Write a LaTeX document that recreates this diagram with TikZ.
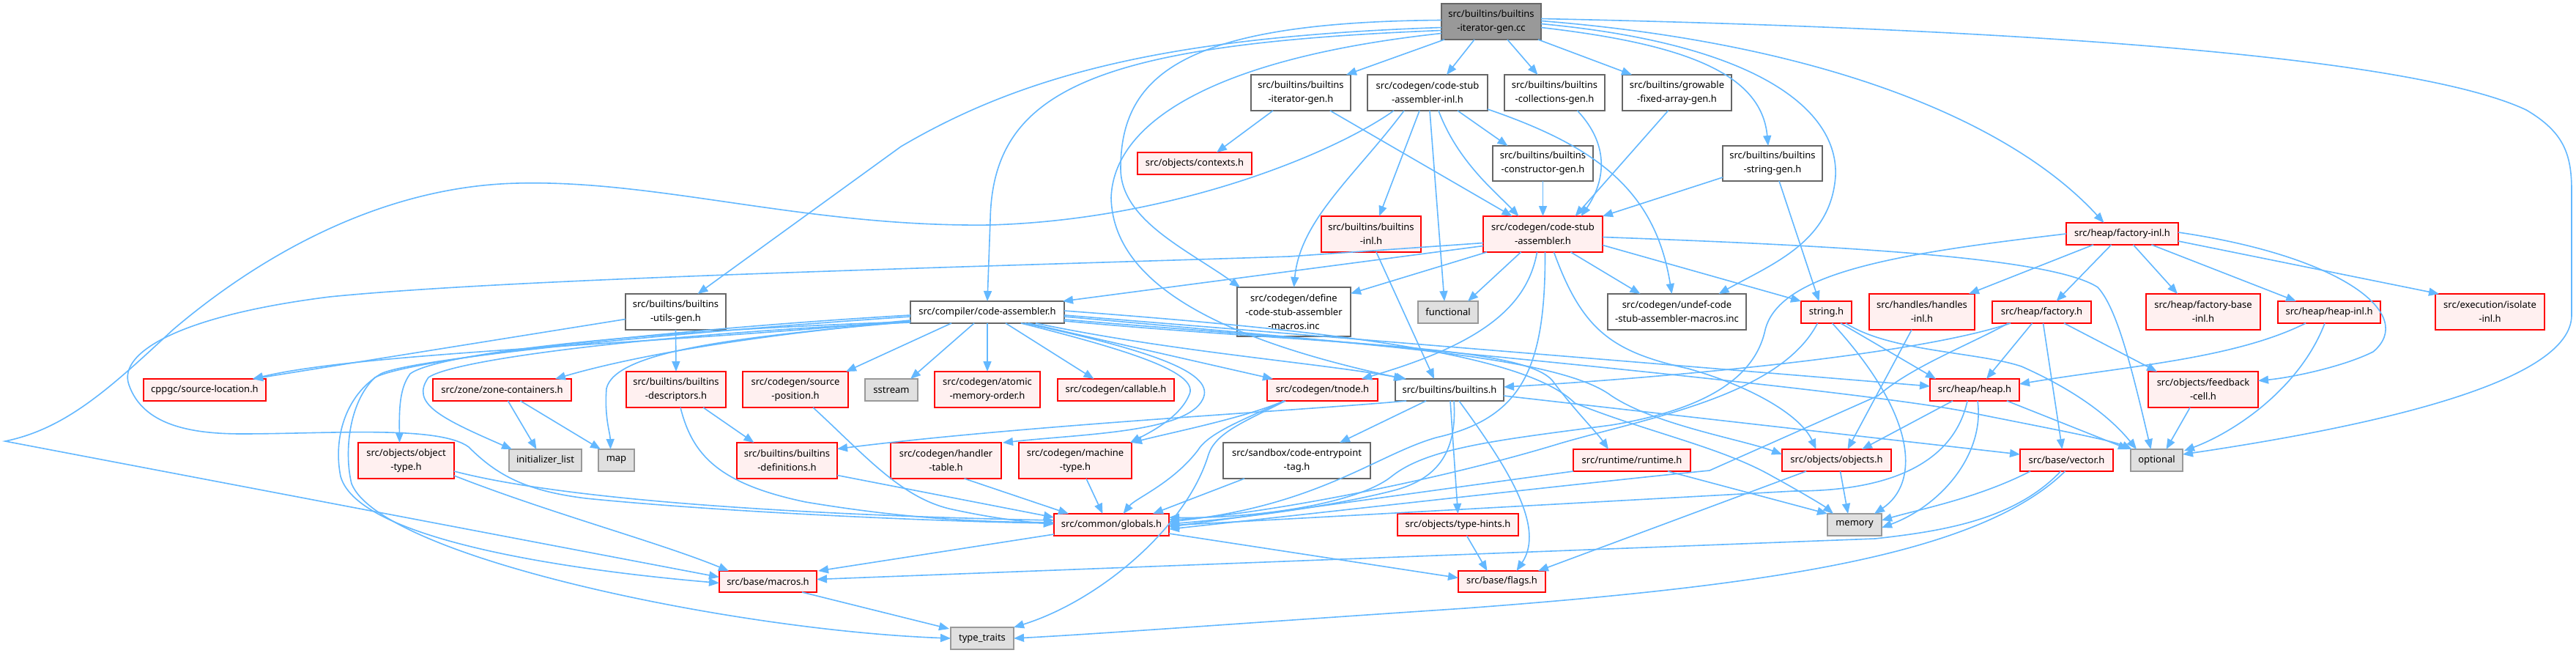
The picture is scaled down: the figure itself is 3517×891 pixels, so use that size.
\documentclass[tikz,border=0pt]{standalone}
\usepackage{fontspec}
\newfontfamily\dxfont{Noto Sans}
\usetikzlibrary{arrows.meta,calc}
\definecolor{edgec}{HTML}{63B8FF}
\definecolor{redfill}{HTML}{FFF0F0}
\definecolor{grayfill}{HTML}{E0E0E0}
\definecolor{grayline}{HTML}{999999}
\definecolor{darkline}{HTML}{666666}
\definecolor{rootfill}{HTML}{999999}
\tikzset{
  nb/.style={draw, line width=1.5pt, inner sep=0pt, outer sep=0pt, align=center,
    font={\dxfont\fontsize{13}{19}\selectfont}, text=black},
  rednode/.style={nb, draw=red, fill=redfill},
  graynode/.style={nb, draw=grayline, fill=grayfill},
  whitenode/.style={nb, draw=darkline, fill=white},
  rootnode/.style={nb, draw=darkline, fill=rootfill},
  conn/.style={draw=edgec, line width=1.6pt, -{Triangle[length=14pt,width=11pt]}},
}
\newcommand\mynode[7]{\node[#2, minimum width=#5pt, minimum height=#6pt] (#1) at (#3,#4) {#7};}
\begin{document}
\begin{tikzpicture}[x=1pt,y=-1pt]
\fill[white] (0,0) rectangle (3517,891);
\useasboundingbox (0,0) rectangle (3517,891);
% ---------------- nodes ----------------
\mynode{root}{rootnode}{2036}{29.5}{136}{49}{src/builtins/builtins\\-iterator-gen.cc}
\mynode{itergen}{whitenode}{1776}{126.5}{136}{49}{src/builtins/builtins\\-iterator-gen.h}
\mynode{csainl}{whitenode}{1949}{126.5}{164}{49}{src/codegen/code-stub\\-assembler-inl.h}
\mynode{collections}{whitenode}{2122.5}{126.5}{137}{49}{src/builtins/builtins\\-collections-gen.h}
\mynode{growable}{whitenode}{2289.5}{126.5}{149}{49}{src/builtins/growable\\-fixed-array-gen.h}
\mynode{contexts}{rednode}{1631}{223}{156}{30}{src/objects/contexts.h}
\mynode{constructorgen}{whitenode}{2106.5}{223}{137}{48}{src/builtins/builtins\\-constructor-gen.h}
\mynode{stringgen}{whitenode}{2420}{223}{136}{48}{src/builtins/builtins\\-string-gen.h}
\mynode{builtinsinl}{rednode}{1872}{319.5}{136}{49}{src/builtins/builtins\\-inl.h}
\mynode{csa}{rednode}{2106.5}{319.5}{163}{49}{src/codegen/code-stub\\-assembler.h}
\mynode{factoryinl}{rednode}{2897.5}{319}{153}{30}{src/heap/factory-inl.h}
\mynode{utilsgen}{whitenode}{922.5}{425.5}{137}{49}{src/builtins/builtins\\-utils-gen.h}
\mynode{codeasm}{whitenode}{1348}{426}{210}{30}{src/compiler/code-assembler.h}
\mynode{definemacros}{whitenode}{1766.5}{425.5}{155}{67}{src/codegen/define\\-code-stub-assembler\\-macros.inc}
\mynode{functional}{graynode}{1977}{426}{82}{30}{functional}
\mynode{undef}{whitenode}{2289.5}{425.5}{189}{49}{src/codegen/undef-code\\-stub-assembler-macros.inc}
\mynode{stringh}{rednode}{2493.5}{426}{69}{30}{string.h}
\mynode{handlesinl}{rednode}{2624}{425.5}{144}{49}{src/handles/handles\\-inl.h}
\mynode{factoryh}{rednode}{2787.5}{426}{135}{30}{src/heap/factory.h}
\mynode{factorybase}{rednode}{3008}{425.5}{156}{49}{src/heap/factory-base\\-inl.h}
\mynode{heapinl}{rednode}{3180}{426}{140}{30}{src/heap/heap-inl.h}
\mynode{isolateinl}{rednode}{3399.5}{425.5}{149}{49}{src/execution/isolate\\-inl.h}
\mynode{sourceloc}{rednode}{279.5}{532}{167}{30}{cppgc/source-location.h}
\mynode{zonecont}{rednode}{685.5}{532}{189}{30}{src/zone/zone-containers.h}
\mynode{descriptors}{rednode}{923}{531.5}{136}{49}{src/builtins/builtins\\-descriptors.h}
\mynode{sourcepos}{rednode}{1086}{531.5}{144}{49}{src/codegen/source\\-position.h}
\mynode{sstream}{graynode}{1217}{532}{72}{30}{sstream}
\mynode{atomic}{rednode}{1348}{531.5}{144}{49}{src/codegen/atomic\\-memory-order.h}
\mynode{callable}{rednode}{1523.5}{532}{159}{30}{src/codegen/callable.h}
\mynode{tnode}{rednode}{1805.5}{532}{151}{30}{src/codegen/tnode.h}
\mynode{builtinsh}{whitenode}{1979}{532}{148}{30}{src/builtins/builtins.h}
\mynode{heaph}{rednode}{2696}{532}{122}{30}{src/heap/heap.h}
\mynode{feedback}{rednode}{3008}{531.5}{150}{49}{src/objects/feedback\\-cell.h}
\mynode{objecttype}{rednode}{554.5}{628.5}{131}{49}{src/objects/object\\-type.h}
\mynode{initlist}{graynode}{744.5}{628}{99}{30}{initializer\_list}
\mynode{map}{graynode}{841.5}{628}{49}{30}{map}
\mynode{definitions}{rednode}{1074.5}{628.5}{137}{49}{src/builtins/builtins\\-definitions.h}
\mynode{handlertable}{rednode}{1291.5}{628.5}{151}{49}{src/codegen/handler\\-table.h}
\mynode{machinetype}{rednode}{1468}{628.5}{154}{49}{src/codegen/machine\\-type.h}
\mynode{entrytag}{whitenode}{1770.5}{628.5}{201}{49}{src/sandbox/code-entrypoint\\-tag.h}
\mynode{runtime}{rednode}{2228}{628}{160}{30}{src/runtime/runtime.h}
\mynode{objects}{rednode}{2507.5}{628}{149}{30}{src/objects/objects.h}
\mynode{vector}{rednode}{2821.5}{628}{127}{30}{src/base/vector.h}
\mynode{optional}{graynode}{2944.5}{628}{71}{30}{optional}
\mynode{globals}{rednode}{1517.5}{716}{157}{30}{src/common/globals.h}
\mynode{typehints}{rednode}{1990.5}{716}{165}{30}{src/objects/type-hints.h}
\mynode{memory}{graynode}{2532}{716}{74}{30}{memory}
\mynode{macros}{rednode}{1048.5}{793.5}{133}{29}{src/base/macros.h}
\mynode{flags}{rednode}{2050.5}{793.5}{119}{29}{src/base/flags.h}
\mynode{typetraits}{graynode}{1341}{871}{86}{30}{type\_traits}
% ---------------- edges ----------------
% root
\draw[conn] ($(root.south west)+(4,0)$) -- ($(itergen.north east)+(-6,0)$);
\draw[conn] ($(root.south)+(-23,0)$) -- ($(csainl.north)+(26,0)$);
\draw[conn] ($(root.south)+(22,0)$) -- ($(collections.north)+(-23,0)$);
\draw[conn] ($(root.south east)+(-4,0)$) -- ($(growable.north west)+(13,0)$);
\draw[conn] ($(root.east)+(0,8)$) .. controls (2300,60) and (2405,100) .. ($(stringgen.north)+(-6,0)$);
\draw[conn] ($(root.east)+(0,3)$) .. controls (2400,60) and (2510,150) .. (2506,240) .. controls (2500,330) and (2420,360) .. ($(undef.north)+(57,0)$);
\draw[conn] ($(root.east)+(0,-1)$) .. controls (2500,60) and (2750,170) .. ($(factoryinl.north)+(-25,0)$);
\draw[conn] ($(root.east)+(0,-4)$) .. controls (2800,40) and (3300,80) .. (3449,150) .. controls (3500,180) and (3511,210) .. (3511,260) -- (3511,430) .. controls (3511,520) and (3250,580) .. ($(optional.east)+(0,-8)$);
\draw[conn] ($(root.west)+(0,8)$) .. controls (1600,50) and (1400,100) .. (1230,200) -- ($(utilsgen.north)+(30,0)$);
\draw[conn] ($(root.west)+(0,12)$) .. controls (1500,60) and (1355,120) .. (1352,300) -- (codeasm.north);
\draw[conn] ($(root.west)+(0,-2)$) .. controls (1620,30) and (1530,100) .. (1530,230) .. controls (1530,300) and (1620,340) .. ($(definemacros.north west)+(4,0)$);
\draw[conn] ($(root.west)+(0,16)$) .. controls (1650,80) and (1520,170) .. (1517,270) .. controls (1520,400) and (1700,470) .. ($(builtinsh.north west)+(12,0)$);
% iterator-gen.h
\draw[conn] ($(itergen.south west)+(30,0)$) -- ($(contexts.north)+(30,0)$);
\draw[conn] ($(itergen.south west)+(108,0)$) -- ($(csa.north)+(-42,0)$);
% code-stub-assembler-inl.h
\draw[conn] ($(csainl.south west)+(50,0)$) .. controls (1850,240) and (1775,300) .. (definemacros.north);
\draw[conn] ($(csainl.south west)+(71,0)$) -- ($(builtinsinl.north)+(11,0)$);
\draw[conn] ($(csainl.south west)+(85,0)$) -- ($(functional.north)+(-5,0)$);
\draw[conn] ($(csainl.south west)+(97,0)$) .. controls (1990,220) and (2040,260) .. ($(csa.north)+(-33,0)$);
\draw[conn] ($(csainl.south west)+(123,0)$) -- ($(constructorgen.north)+(-48,0)$);
\draw[conn] ($(csainl.south east)+(0,-2)$) .. controls (2180,200) and (2260,260) .. ($(undef.north)+(-7,0)$);
\draw[conn] ($(csainl.south west)+(36,0)$) .. controls (1820,210) and (1600,300) .. (1351,307) .. controls (1100,310) and (900,245) .. (706,250) .. controls (500,255) and (330,370) .. (236,450) .. controls (150,530) and (90,585) .. (7,602) -- ($(macros.west)+(0,-6)$);
% code-stub-assembler.h
\draw[conn] ($(csa.west)+(0,16)$) -- ($(codeasm.north east)+(-2,0)$);
\draw[conn] ($(csa.west)+(0,12)$) -- (1760,350) .. controls (1300,365) and (700,380) .. (450,405) .. controls (250,430) and (160,480) .. (176,525) .. controls (195,580) and (260,592) .. (330,592) .. controls (450,592) and (600,580) .. (640,610) .. controls (680,650) and (720,670) .. (800,680) .. controls (1000,700) and (1300,712) .. ($(globals.west)+(0,-2)$);
\draw[conn] ($(csa.south west)+(5,0)$) -- ($(definemacros.east)+(0,-25)$);
\draw[conn] ($(csa.south)+(-30,0)$) -- ($(functional.north)+(27,0)$);
\draw[conn] ($(csa.south)+(-8,0)$) .. controls (2085,420) and (2020,470) .. ($(tnode.north east)+(-22,0)$);
\draw[conn] ($(csa.south)+(3,0)$) .. controls (2110,500) and (2080,570) .. (1961,597) .. controls (1880,620) and (1800,690) .. ($(globals.east)+(0,-4)$);
\draw[conn] ($(csa.south)+(15,0)$) .. controls (2160,450) and (2200,480) .. (2305,503) .. controls (2400,530) and (2460,570) .. ($(objects.north)+(-28,0)$);
\draw[conn] ($(csa.south)+(38,0)$) -- ($(undef.north)+(-50,0)$);
\draw[conn] ($(csa.east)+(0,15)$) -- (stringh.north west);
\draw[conn] ($(csa.east)+(0,4)$) .. controls (2500,335) and (2800,350) .. (2864,392) .. controls (2890,420) and (2910,500) .. ($(optional.north)+(-8,0)$);
% into code-stub-assembler.h
\draw[conn] ($(collections.south)+(31,0)$) .. controls (2200,200) and (2190,250) .. ($(csa.north)+(52,0)$);
\draw[conn] ($(growable.south)+(-12,0)$) -- ($(csa.north)+(44,0)$);
\draw[conn] (constructorgen.south) -- (csa.north);
\draw[conn] ($(stringgen.south west)+(0,-5)$) -- (csa.north east);
\draw[conn] ($(stringgen.south)+(9,0)$) -- ($(stringh.north)+(-10,0)$);
\draw[conn] ($(builtinsinl.south)+(7,0)$) -- ($(builtinsh.north)+(-21,0)$);
% utils-gen
\draw[conn] (utilsgen.south) -- (descriptors.north);
\draw[conn] ($(utilsgen.west)+(0,10)$) -- ($(sourceloc.north east)+(-18,0)$);
% code-assembler.h
\draw[conn] ($(codeasm.south west)+(0,-4)$) .. controls (900,470) and (500,480) .. ($(sourceloc.north east)+(-18,0)$);
\draw[conn] ($(codeasm.south west)+(0,-3)$) .. controls (1000,460) and (850,490) .. ($(zonecont.north east)+(-22,0)$);
\draw[conn] ($(codeasm.south west)+(0,-2)$) .. controls (900,450) and (600,480) .. (560,510) .. controls (545,530) and (545,560) .. ($(objecttype.north)+(-9,0)$);
\draw[conn] ($(codeasm.south west)+(0,-1)$) .. controls (900,455) and (620,490) .. (585,515) .. controls (560,550) and (600,570) .. ($(initlist.north west)+(4,0)$);
\draw[conn] ($(codeasm.south west)+(0,-2)$) .. controls (1000,460) and (840,480) .. (828,530) .. controls (825,570) and (833,590) .. ($(map.north)+(-8,0)$);
\draw[conn] ($(codeasm.west)+(0,6)$) .. controls (900,455) and (560,490) .. (520,510) .. controls (470,540) and (455,600) .. (465,650) .. controls (490,740) and (800,780) .. ($(macros.west)+(0,2)$);
\draw[conn] ($(codeasm.west)+(0,4)$) .. controls (900,450) and (560,490) .. (512,515) .. controls (475,550) and (470,620) .. (480,660) .. controls (520,760) and (1000,860) .. (typetraits.west);
\draw[conn] ($(codeasm.south)+(-49,0)$) -- ($(sourcepos.north east)+(-3,0)$);
\draw[conn] ($(codeasm.south)+(-18,0)$) -- ($(sstream.north east)+(-10,0)$);
\draw[conn] (codeasm.south) -- (atomic.north);
\draw[conn] ($(codeasm.south)+(25,0)$) -- ($(callable.north)+(-30,0)$);
\draw[conn] ($(codeasm.south)+(56,0)$) -- ($(tnode.north west)+(8,0)$);
\draw[conn] ($(codeasm.south)+(46,0)$) .. controls (1550,480) and (1640,510) .. (1623,540) .. controls (1610,570) and (1570,590) .. ($(machinetype.north east)+(-2,0)$);
\draw[conn] ($(codeasm.south)+(51,0)$) .. controls (1580,480) and (1660,510) .. (1642,545) .. controls (1620,590) and (1480,592) .. ($(handlertable.north east)+(2,0)$);
\draw[conn] ($(codeasm.south)+(66,0)$) .. controls (1600,480) and (1800,495) .. ($(builtinsh.north west)+(15,0)$);
\draw[conn] ($(codeasm.south east)+(0,-3)$) .. controls (1800,470) and (2080,470) .. (2120,520) .. controls (2150,560) and (2180,590) .. ($(runtime.north)+(-32,0)$);
\draw[conn] ($(codeasm.south east)+(0,-5)$) .. controls (1800,465) and (2120,480) .. (2200,540) .. controls (2260,580) and (2380,600) .. ($(objects.west)+(0,-8)$);
\draw[conn] ($(codeasm.east)+(0,-2)$) .. controls (1800,450) and (2080,480) .. (2150,550) .. controls (2250,590) and (2350,610) .. (2420,650) .. controls (2460,672) and (2490,690) .. ($(memory.north west)+(8,0)$);
\draw[conn] ($(codeasm.east)+(0,4)$) -- ($(heaph.west)+(0,-5)$);
\draw[conn] ($(codeasm.east)+(0,6)$) .. controls (2000,480) and (2600,540) .. (2700,565) .. controls (2800,585) and (2880,600) .. ($(optional.north west)+(2,0)$);
% lower level
\draw[conn] ($(descriptors.south)+(37,0)$) -- ($(definitions.north)+(-45,0)$);
\draw[conn] ($(descriptors.south)+(6,0)$) .. controls (945,620) and (980,660) .. (1100,685) .. controls (1250,710) and (1350,712) .. ($(globals.west)+(0,-3)$);
\draw[conn] ($(definitions.east)+(0,20)$) -- ($(globals.west)+(0,-10)$);
\draw[conn] ($(sourcepos.south)+(24,0)$) .. controls (1180,620) and (1230,680) .. (1300,695) .. controls (1360,708) and (1400,712) .. ($(globals.west)+(0,-1)$);
\draw[conn] ($(handlertable.south)+(25,0)$) -- ($(globals.north west)+(20,0)$);
\draw[conn] ($(machinetype.south)+(15,0)$) -- ($(globals.north)+(-12,0)$);
\draw[conn] ($(entrytag.south west)+(29,0)$) -- ($(globals.north east)+(-22,0)$);
\draw[conn] ($(tnode.south west)+(23,0)$) .. controls (1700,570) and (1600,590) .. (machinetype.north east);
\draw[conn] ($(tnode.south west)+(23,0)$) .. controls (1700,572) and (1650,590) .. (1635,615) .. controls (1600,660) and (1550,680) .. ($(globals.north)+(16,0)$);
\draw[conn] ($(tnode.south west)+(25,0)$) .. controls (1700,575) and (1660,590) .. (1650,620) .. controls (1620,720) and (1500,820) .. (typetraits.north east);
\draw[conn] ($(builtinsh.south west)+(15,0)$) .. controls (1780,560) and (1400,580) .. ($(definitions.east)+(0,-16)$);
\draw[conn] ($(builtinsh.south)+(6,0)$) .. controls (1990,620) and (1960,655) .. (1900,670) .. controls (1800,695) and (1680,708) .. ($(globals.east)+(0,-1)$);
\draw[conn] ($(builtinsh.south west)+(42,0)$) -- ($(entrytag.north east)+(-42,0)$);
\draw[conn] ($(builtinsh.south)+(1,0)$) -- (typehints.north);
\draw[conn] ($(builtinsh.south)+(13,0)$) .. controls (2060,640) and (2110,720) .. ($(flags.north)+(20,0)$);
\draw[conn] ($(builtinsh.east)+(0,8)$) -- ($(vector.west)+(0,-8)$);
\draw[conn] ($(typehints.south)+(12,0)$) -- ($(flags.north)+(-20,0)$);
\draw[conn] ($(globals.south east)+(0,-3)$) -- ($(flags.west)+(0,-5)$);
\draw[conn] ($(globals.south west)+(0,-2)$) -- ($(macros.north east)+(2,0)$);
\draw[conn] ($(macros.south east)+(-20,0)$) -- ($(typetraits.north west)+(-2,2)$);
\draw[conn] ($(objecttype.south east)+(0,-4)$) .. controls (750,700) and (900,740) .. ($(macros.north west)+(13,0)$);
\draw[conn] ($(objecttype.south east)+(0,-10)$) .. controls (800,690) and (1200,705) .. ($(globals.west)+(0,-6)$);
\draw[conn] ($(zonecont.south)+(8,0)$) -- ($(initlist.north)+(-12,0)$);
\draw[conn] ($(zonecont.south)+(25,0)$) -- ($(map.north west)+(3,0)$);
\draw[conn] (runtime.south west) -- ($(globals.east)+(0,3)$);
\draw[conn] ($(runtime.south east)+(-31,0)$) -- (memory.north west);
\draw[conn] ($(objects.south)+(5,0)$) -- ($(memory.north)+(-9,0)$);
\draw[conn] ($(objects.south west)+(33,0)$) -- ($(flags.north east)+(-10,0)$);
% string.h
\draw[conn] ($(stringh.south)+(-12,0)$) .. controls (2430,540) and (2250,570) .. (2130,605) .. controls (1950,660) and (1700,705) .. ($(globals.east)+(0,-7)$);
\draw[conn] ($(stringh.south)+(8,0)$) .. controls (2620,570) and (2620,660) .. ($(memory.north east)+(-10,0)$);
\draw[conn] ($(stringh.south east)+(-15,0)$) -- ($(heaph.north west)+(8,0)$);
\draw[conn] ($(stringh.south east)+(-8,0)$) .. controls (2580,480) and (2700,480) .. (2760,500) .. controls (2850,540) and (2890,580) .. ($(optional.north west)+(8,0)$);
\draw[conn] ($(handlesinl.south west)+(58,0)$) -- ($(objects.north)+(15,0)$);
% factory-inl.h
\draw[conn] ($(factoryinl.south west)+(37,0)$) -- ($(handlesinl.north east)+(-8,0)$);
\draw[conn] ($(factoryinl.south)+(-15,0)$) -- ($(factoryh.north)+(20,0)$);
\draw[conn] ($(factoryinl.south)+(15,0)$) -- ($(factorybase.north)+(-35,0)$);
\draw[conn] ($(factoryinl.south)+(40,0)$) -- ($(heapinl.north west)+(25,0)$);
\draw[conn] ($(factoryinl.east)+(0,10)$) -- ($(isolateinl.north west)+(5,0)$);
\draw[conn] ($(factoryinl.east)+(0,-2)$) .. controls (3200,350) and (3300,430) .. (3240,480) .. controls (3200,500) and (3130,515) .. ($(feedback.east)+(0,-12)$);
\draw[conn] (factoryinl.west) .. controls (2600,345) and (2430,370) .. (2410,450) .. controls (2395,520) and (2320,560) .. (2200,580) .. controls (2050,600) and (1950,610) .. (1900,650) .. controls (1850,690) and (1700,708) .. ($(globals.east)+(0,-10)$);
% factory.h
\draw[conn] ($(factoryh.south west)+(25,0)$) .. controls (2600,490) and (2200,520) .. ($(builtinsh.east)+(0,-4)$);
\draw[conn] ($(factoryh.south west)+(22,0)$) .. controls (2690,470) and (2610,500) .. (2564,540) -- (2334,642) .. controls (2200,655) and (1800,700) .. ($(globals.east)+(0,6)$);
\draw[conn] ($(factoryh.south)+(-13,0)$) -- ($(heaph.north)+(16,0)$);
\draw[conn] ($(factoryh.south)+(2,0)$) -- ($(vector.north)+(-6,0)$);
\draw[conn] ($(factoryh.south east)+(-37,0)$) -- ($(feedback.north west)+(12,0)$);
% heap-inl.h, feedback-cell.h
\draw[conn] ($(heapinl.south west)+(38,0)$) .. controls (3050,490) and (2900,500) .. ($(heaph.east)+(0,-8)$);
\draw[conn] ($(heapinl.south)+(-6,0)$) .. controls (3140,530) and (3050,590) .. ($(optional.north east)+(2,2)$);
\draw[conn] ($(feedback.south west)+(57,0)$) -- ($(optional.north)+(13,0)$);
% heap.h
\draw[conn] ($(heaph.south west)+(31,0)$) -- ($(objects.north east)+(-40,0)$);
\draw[conn] ($(heaph.south)+(-10,0)$) .. controls (2670,620) and (2600,670) .. (2450,670) -- ($(globals.east)+(0,1)$);
\draw[conn] ($(heaph.south)+(4,0)$) .. controls (2710,620) and (2650,690) .. ($(memory.east)+(0,4)$);
\draw[conn] ($(heaph.south east)+(-17,0)$) -- ($(optional.north west)+(-3,0)$);
% vector.h
\draw[conn] ($(vector.south west)+(14,0)$) .. controls (2700,680) and (2620,695) .. ($(memory.east)+(0,-6)$);
\draw[conn] ($(vector.south)+(-8,0)$) .. controls (2750,710) and (2650,725) .. (2560,735) -- ($(macros.east)+(0,-3)$);
\draw[conn] ($(vector.south)+(-2,0)$) .. controls (2700,760) and (2400,800) .. (2000,830) .. controls (1700,850) and (1500,865) .. (typetraits.east);
\end{tikzpicture}
\end{document}
